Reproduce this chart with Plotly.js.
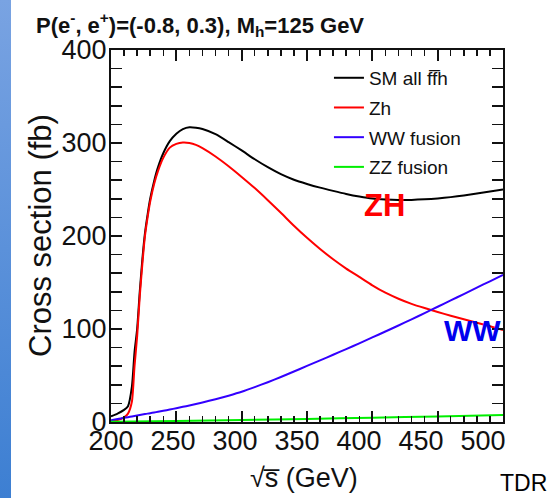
<!DOCTYPE html>
<html>
<head>
<meta charset="utf-8">
<script src="https://cdn.plot.ly/plotly-3.0.1.min.js"></script>
<style>
  html, body { margin: 0; padding: 0; background: #ffffff; }
  #wrap { position: relative; width: 554px; height: 498px; overflow: hidden; }
  #strip { position: absolute; left: 0; top: 0; width: 11px; height: 498px;
           background: linear-gradient(to bottom, #79a3e2, #3d7fd2); }
  #chart { position: absolute; left: 0; top: 0; width: 554px; height: 498px; }
</style>
</head>
<body>
<div id="wrap"><div id="strip"></div><div id="chart"></div></div>
<script>
// centre-of-mass energy (GeV)
const sqrtS = [200, 205, 210, 213, 216, 218, 220, 222, 224, 226, 228, 230, 233, 236, 240, 245, 250, 255, 260, 265, 270, 280, 290, 300, 310, 320, 330, 340, 350, 360, 370, 380, 390, 400, 410, 420, 430, 440, 450, 460, 470, 480, 490, 500];
// SM all ffh (fb)
const smAll = [6, 9, 13, 17, 38, 75, 100, 140, 175, 203, 223, 240, 259, 274, 289, 302, 310, 315, 317, 316.5, 315, 309.5, 301, 292, 282.5, 274, 266.5, 260.5, 256, 252, 248.5, 245.2, 242.4, 240.2, 239.2, 238.7, 238.8, 239.4, 240.4, 241.8, 243.6, 245.6, 247.8, 250];
// Zh (fb)
const zh = [1, 2, 5, 9, 22, 60, 92, 135, 170, 200, 220, 237, 256, 270, 284, 295, 299, 300.5, 300, 298, 294.5, 285.5, 275, 263.5, 251.5, 238.5, 225, 211, 198, 186, 175, 165, 156, 147, 139, 132.5, 127, 122.5, 118.3, 114.3, 110.5, 106.8, 103, 99];
// WW fusion (fb)
const wwFusion = [2, 3.2, 4.5, 5.2, 6, 6.5, 7, 7.5, 8, 8.5, 9, 9.5, 10.2, 11, 12, 13.4, 14.8, 16.3, 17.8, 19.4, 21, 24.5, 28.3, 32.5, 37.5, 42.8, 48.4, 54.3, 60.3, 66.3, 72.3, 78.4, 84.6, 90.9, 97.3, 103.8, 110.4, 117.1, 123.9, 130.7, 137.6, 144.5, 151.3, 158.2];
// ZZ fusion (fb)
const zzS = [200, 250, 300, 350, 400, 450, 500];
const zzFusion = [0.3, 1.2, 2.2, 3.3, 4.6, 6.0, 7.5];

const seriesNames = ['SM all ff\u0305h', 'Zh', 'WW fusion', 'ZZ fusion'];
const seriesColors = ['#000000', '#ff0000', '#3300ff', '#00ee00'];
const xTicks = [200, 250, 300, 350, 400, 450, 500];
const yTicks = [0, 100, 200, 300, 400];

const font = 'Liberation Sans, Arial, Helvetica, sans-serif';
const xs = [sqrtS, sqrtS, sqrtS, zzS];
const ys = [smAll, zh, wwFusion, zzFusion];

const traces = ys.map((y, i) => ({
  x: xs[i], y: y, type: 'scatter', mode: 'lines',
  name: seriesNames[i], legendgroup: 'g' + i,
  line: { color: seriesColors[i], width: 2, shape: 'spline', smoothing: 0.6 }
}));
// carrier for the tick-label axis (no points)
traces.push({ x: [], y: [], xaxis: 'x2', yaxis: 'y', type: 'scatter', mode: 'lines',
  showlegend: false, hoverinfo: 'skip' });

const axisCommon = {
  ticks: 'inside', ticklen: 11, tickwidth: 2, tickcolor: '#111',
  mirror: 'allticks', showline: true, linewidth: 2, linecolor: '#111',
  showgrid: false, zeroline: false,
  tickfont: { family: font, size: 27, color: '#111' }
};

const layout = {
  width: 554, height: 498,
  margin: { l: 111, r: 51, t: 50, b: 76 },
  paper_bgcolor: 'rgba(0,0,0,0)',
  plot_bgcolor: '#ffffff',
  showlegend: true,
  legend: {
    x: 0.556, y: 0.976, xanchor: 'left', yanchor: 'top',
    bgcolor: 'rgba(0,0,0,0)', borderwidth: 0,
    font: { family: font, size: 19, color: '#111' },
    tracegroupgap: 2, itemwidth: 30
  },
  title: {
    text: '<b>P(e<sup>-</sup>, e<sup>+</sup>)=(-0.8, 0.3), M<sub>h</sub>=125 GeV</b>',
    x: 36 / 554, xref: 'container', xanchor: 'left',
    y: 1 - 25 / 498, yref: 'container', yanchor: 'middle',
    font: { family: font, size: 22, color: '#111' }
  },
  xaxis: Object.assign({}, axisCommon, {
    range: [200, 500], tickvals: xTicks, showticklabels: false,
    minor: { dtick: 10, ticks: 'inside', ticklen: 6, tickwidth: 1.5, tickcolor: '#111', showgrid: false }
  }),
  xaxis2: {
    overlaying: 'x', anchor: 'y', side: 'bottom',
    range: [200, 516.1], tickvals: xTicks, ticktext: xTicks.map(String),
    ticks: '', showline: false, showgrid: false, zeroline: false,
    tickfont: { family: font, size: 27, color: '#111' }
  },
  yaxis: Object.assign({}, axisCommon, {
    range: [0, 400], tickvals: yTicks, ticktext: yTicks.map(String),
    ticklabelstandoff: -3,
    minor: { dtick: 20, ticks: 'inside', ticklen: 6, tickwidth: 1.5, tickcolor: '#111', showgrid: false }
  }),
  annotations: [
    { text: 'Cross section (fb)', textangle: -90, x: (40 - 111) / 392, y: 0.5,
      xref: 'paper', yref: 'paper', showarrow: false, xanchor: 'center', yanchor: 'middle',
      font: { family: font, size: 31, color: '#111' } },
    { text: '\u221As\u0305 (GeV)', x: (304 - 111) / 392, y: (422 - 478) / 372,
      xref: 'paper', yref: 'paper', showarrow: false, xanchor: 'center', yanchor: 'middle',
      font: { family: font, size: 27, color: '#111' } },
    { text: '<b>ZH</b>', x: 409.5, y: 233, xref: 'x', yref: 'y', showarrow: false,
      font: { family: font, size: 31, color: '#ff0000' } },
    { text: '<b>WW</b>', x: 477, y: 98, xref: 'x', yref: 'y', showarrow: false,
      font: { family: font, size: 30, color: '#0000ee' } },
    { text: 'TDR', x: (523 - 111) / 392, y: (422 - 483) / 372, xref: 'paper', yref: 'paper', showarrow: false,
      xanchor: 'center', yanchor: 'middle', borderpad: 0,
      font: { family: font, size: 23, color: '#000' } }
  ]
};

Plotly.newPlot('chart', traces, layout, { displayModeBar: false, staticPlot: true });
</script>
</body>
</html>
